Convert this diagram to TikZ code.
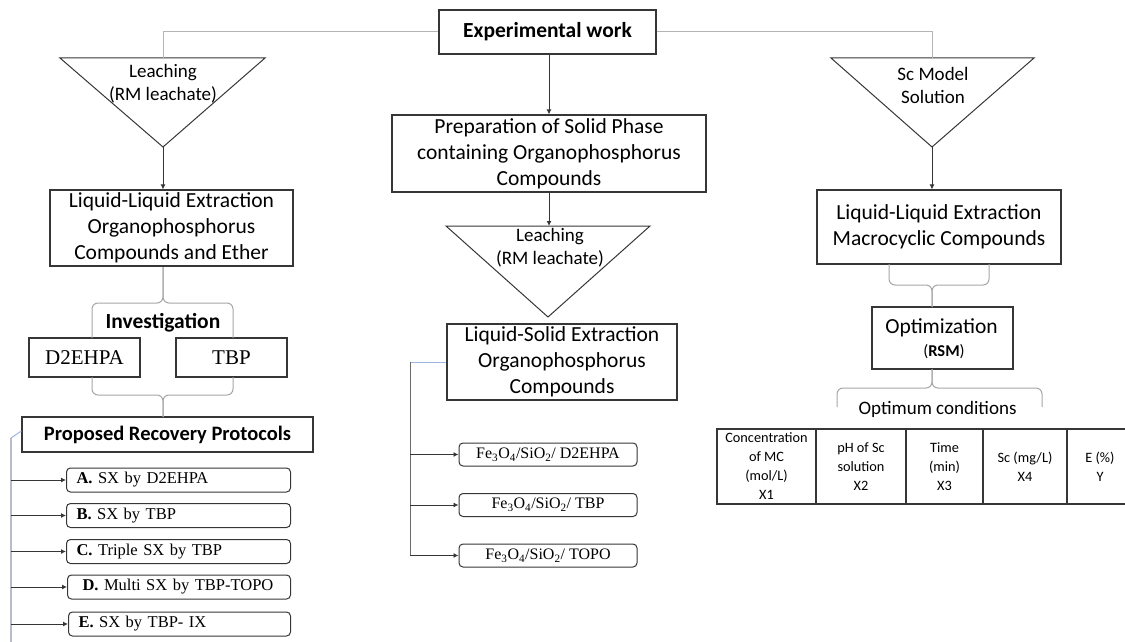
\documentclass[tikz,border=0pt]{standalone}
\usepackage{fontspec}
\setmainfont{Carlito}
\newfontfamily\timesfont{Liberation Serif}
\usetikzlibrary{arrows.meta}
\definecolor{ink}{HTML}{363636}
\definecolor{wire}{HTML}{B4B4B4}
\definecolor{bracec}{HTML}{A6A6A6}
\definecolor{bluewire}{HTML}{9FB6E3}
\definecolor{sidewire}{HTML}{B8BCC8}
\definecolor{midwire}{HTML}{6A6A6A}

\begin{document}
\begin{tikzpicture}[x=1pt,y=-1pt,
  box/.style={draw=ink, line width=1.2pt, inner sep=0pt, align=center,
    font=\fontsize{21.5}{26}\selectfont},
  tri/.style={draw=ink, line width=1pt},
  tritext/.style={align=center, inner sep=0pt, font=\fontsize{19}{23.5}\selectfont},
  arrow/.style={draw=ink, line width=0.9pt, -{Latex[length=5pt,width=5pt]}},
  feed/.style={draw=wire, line width=1pt},
  bracepath/.style={draw=bracec, line width=1pt, rounded corners=6pt},
  option/.style={draw=ink, line width=1pt, rounded corners=4pt, inner ysep=0pt,
    inner xsep=10pt, text width=204pt, align=left, minimum height=24pt, anchor=west,
    font=\timesfont\fontsize{16.5}{20}\selectfont},
  carrier/.style={draw=ink, line width=1pt, rounded corners=4pt, inner sep=0pt,
    minimum width=178pt, minimum height=23pt,
    font=\timesfont\fontsize{16}{20}\selectfont},
  cell/.style={draw=ink, line width=1.4pt, inner sep=0pt, minimum height=75pt,
    align=center, font=\fontsize{14.3}{19}\selectfont},
  boldlabel/.style={inner sep=0pt, font=\bfseries\fontsize{21.5}{26}\selectfont},
]
\useasboundingbox (0,0) rectangle (1125,642);
\clip (0,0) rectangle (1125,642);

% ---------- root ----------
\node[box, minimum width=217pt, minimum height=44pt,
      font=\bfseries\fontsize{21.5}{26}\selectfont] (exp) at (547.5,32) {Experimental work};

% ---------- left branch ----------
\coordinate (lt-top) at (163,58);
\coordinate (lt-tip) at (163,147);
\draw[tri] (60,58) -- (265,58) -- (lt-tip) -- cycle;
\node[tritext] (lt-text) at (163,83.5) {Leaching\\(RM leachate)};
\draw[feed] (exp.west) -| (lt-top);

\node[box, minimum width=243pt, minimum height=76pt] (lle1) at (171.5,228)
  {Liquid-Liquid Extraction\\Organophosphorus\\Compounds and Ether};
\draw[arrow] (lt-tip) -- (lt-tip |- lle1.north);

\node[boldlabel] (inv) at (163,323) {Investigation};
\node[box, minimum width=111pt, minimum height=39pt,
      font=\timesfont\fontsize{21}{25}\selectfont] (d2) at (84.5,357.5) {D2EHPA};
\node[box, minimum width=111pt, minimum height=39pt,
      font=\timesfont\fontsize{21}{25}\selectfont] (tbp) at (231.5,357.5) {TBP};

\coordinate (b1-tip) at (163,267);
\draw[bracepath] (92,338) -- (92,303) -- (163,303) -- (b1-tip);
\draw[bracepath] (233,338) -- (233,303) -- (163,303) -- (b1-tip);

\node[box, minimum width=291pt, minimum height=35pt,
      font=\bfseries\fontsize{20.5}{25}\selectfont] (prop) at (167.5,434.5)
  {Proposed Recovery Protocols};

\coordinate (b2-tip) at (163,417);
\draw[bracepath] (92,377) -- (92,395) -- (163,395) -- (b2-tip);
\draw[bracepath] (233,377) -- (233,395) -- (163,395) -- (b2-tip);

\coordinate (side) at (11,438);
\draw[draw=bluewire, line width=1pt] ([yshift=3.5pt]prop.west) -- (side);
\draw[draw=sidewire, line width=1.1pt] (side) -- (11,650);

\node[option] (optA) at (66,480) {\textbf{A.} SX by D2EHPA};
\node[option] (optB) at (66,515.5) {\textbf{B.} SX by TBP};
\node[option] (optC) at (66,551.5) {\textbf{C.} Triple SX by TBP};
\node[option, text width=203pt] (optD) at (67,587) {\hspace*{5pt}\textbf{D.} Multi SX by TBP-TOPO};
\node[option, text width=202pt] (optE) at (68,624) {\textbf{E.} SX by TBP- IX};
\foreach \o in {optA,optB,optC,optD,optE}
  \draw[arrow] (\o.west -| side) -- (\o.west);

% ---------- middle branch ----------
\node[box, minimum width=314pt, minimum height=77pt] (prep) at (549,153.5)
  {Preparation of Solid Phase\\containing Organophosphorus\\Compounds};
\draw[arrow] ([xshift=1.5pt]exp.south) -- ([xshift=1.5pt]exp.south |- prep.north);

\coordinate (mt-top) at (549,226);
\coordinate (mt-tip) at (548,317);
\draw[tri] (446,226) -- (650,226) -- (mt-tip) -- cycle;
\node[tritext] (mt-text) at (550,247.5) {Leaching\\(RM leachate)};
\draw[arrow] (prep.south) -- (mt-top);

\node[box, minimum width=230pt, minimum height=76pt] (lse) at (562,362)
  {Liquid-Solid Extraction\\Organophosphorus\\Compounds};

\coordinate (mid) at (410,362);
\draw[draw=bluewire, line width=1pt] (lse.west) -- (mid);
\draw[draw=midwire, line width=1pt] (mid) -- (410,556);

\node[carrier] (fe1) at (548,454.5) {Fe\textsubscript{3}O\textsubscript{4}/SiO\textsubscript{2}/ D2EHPA};
\node[carrier] (fe2) at (548,505) {Fe\textsubscript{3}O\textsubscript{4}/SiO\textsubscript{2}/ TBP};
\node[carrier] (fe3) at (548,555.5) {Fe\textsubscript{3}O\textsubscript{4}/SiO\textsubscript{2}/ TOPO};
\foreach \f in {fe1,fe2,fe3}
  \draw[arrow] (\f.west -| mid) -- (\f.west);

% ---------- right branch ----------
\coordinate (rt-top) at (932,58);
\coordinate (rt-tip) at (932,147);
\draw[tri] (831,58) -- (1034,58) -- (rt-tip) -- cycle;
\node[tritext] (rt-text) at (933,85.5) {Sc Model\\Solution};
\draw[feed] (exp.east) -| (rt-top);

\node[box, minimum width=244pt, minimum height=74pt] (lle2) at (939,227)
  {Liquid-Liquid Extraction\\Macrocyclic Compounds};
\draw[arrow] (rt-tip) -- (rt-tip |- lle2.north);

\node[box, minimum width=141pt, minimum height=62pt] (opt) at (942.5,338) {};
\node[inner sep=0pt, font=\fontsize{21.5}{26}\selectfont] (opt-title) at (941.5,328) {Optimization};
\node[inner sep=0pt, font=\fontsize{16.5}{20}\selectfont] (opt-sub) at (944,352) {(\textbf{RSM})};

\coordinate (b3-tip) at (932,307);
\draw[bracepath] (889,264) -- (889,285) -- (932,285) -- (b3-tip);
\draw[bracepath] (989,264) -- (989,285) -- (932,285) -- (b3-tip);

\coordinate (b4-tip) at (932,369);
\draw[bracepath] (837,407) -- (837,388) -- (932,388) -- (b4-tip);
\draw[bracepath] (1042,407) -- (1042,388) -- (932,388) -- (b4-tip);

\node[inner sep=0pt, font=\fontsize{19}{23}\selectfont] (optimum) at (937.5,409) {Optimum conditions};

\node[cell, minimum width=99pt] (c1) at (766.5,466.5) {Concentration\\of MC\\(mol/L)\\X1};
\node[cell, minimum width=90pt] (c2) at (861,466.5) {pH of Sc\\solution\\X2};
\node[cell, minimum width=77pt] (c3) at (944.5,466.5) {Time\\(min)\\X3};
\node[cell, minimum width=84pt] (c4) at (1025,466.5) {Sc (mg/L)\\X4};
\node[cell, minimum width=66pt] (c5) at (1100,466.5) {E (\%)\\Y};
\end{tikzpicture}
\end{document}
